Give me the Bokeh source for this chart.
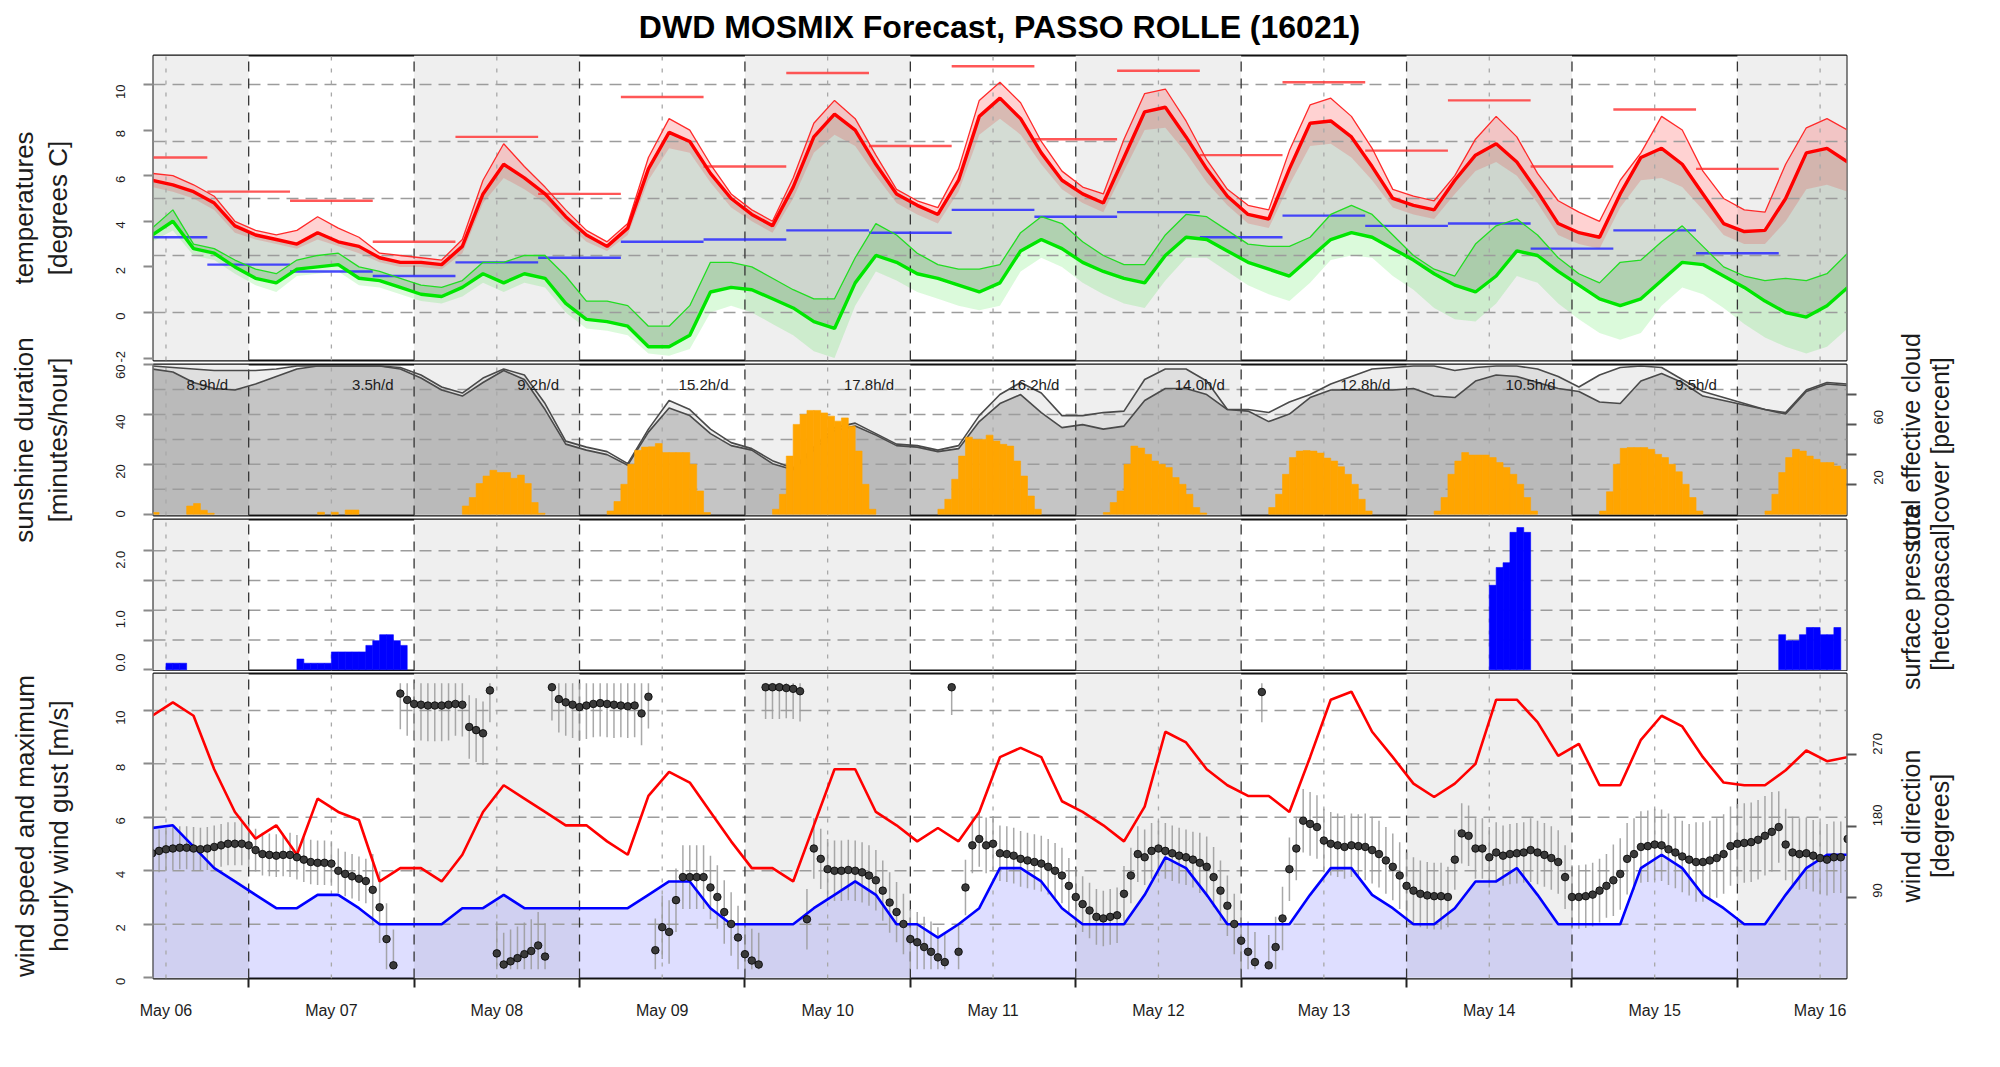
import math
from bokeh.plotting import figure
from bokeh.layouts import column, row
from bokeh.models import Range1d, LinearAxis, FixedTicker
from bokeh.embed import file_html
from bokeh.resources import INLINE
from bokeh.core.properties import value

FONT = "Liberation Sans"
TXT = "#1c1c1c"

# ------------------------------------------------------------------ data
title_text = "DWD MOSMIX Forecast, PASSO ROLLE (16021)"
day_labels = ["May 06", "May 07", "May 08", "May 09", "May 10", "May 11",
              "May 12", "May 13", "May 14", "May 15", "May 16"]
# time axis: hours since May 06 00 UTC
noon_hours = [12, 36, 60, 84, 108, 132, 156, 180, 204, 228, 252]
midnight_hours = [24, 48, 72, 96, 120, 144, 168, 192, 216, 240]
shaded_day_start = [0, 48, 96, 144, 192, 240]

t3 = list(range(10, 257, 3))          # 3-hourly steps
t_hourly = list(range(10, 257))       # hourly steps

temp_mean = [
    5.8, 5.6, 5.3, 4.8, 3.8, 3.4, 3.2, 3.0,
    3.5, 3.1, 2.9, 2.4, 2.2, 2.2, 2.1, 2.9,
    5.2, 6.5, 5.9, 5.2, 4.2, 3.4, 2.9, 3.7,
    6.3, 7.9, 7.5, 6.1, 5.0, 4.3, 3.8, 5.5,
    7.7, 8.7, 8.0, 6.5, 5.2, 4.7, 4.3, 5.8,
    8.6, 9.4, 8.5, 7.0, 5.8, 5.2, 4.8, 6.8,
    8.8, 9.0, 7.7, 6.3, 5.1, 4.3, 4.1, 6.3,
    8.3, 8.4, 7.7, 6.4, 5.0, 4.7, 4.5, 5.8,
    6.9, 7.4, 6.6, 5.3, 3.9, 3.5, 3.3, 5.2,
    6.8, 7.2, 6.5, 5.2, 3.9, 3.55, 3.6, 5.0,
    7.0, 7.2, 6.6]
temp_upper = [
    6.1, 6.0, 5.6, 5.1, 4.0, 3.6, 3.4, 3.6,
    4.2, 3.7, 3.3, 2.6, 2.5, 2.4, 2.3, 3.2,
    5.8, 7.4, 6.4, 5.5, 4.5, 3.6, 3.1, 3.9,
    6.8, 8.5, 8.0, 6.5, 5.2, 4.5, 4.0, 5.9,
    8.3, 9.3, 8.5, 6.9, 5.4, 4.9, 4.6, 6.3,
    9.3, 10.1, 9.2, 7.5, 6.2, 5.5, 5.2, 7.6,
    9.6, 9.8, 8.4, 6.7, 5.4, 4.7, 4.5, 7.1,
    9.1, 9.4, 8.6, 7.2, 5.4, 5.1, 4.9, 6.0,
    7.6, 8.6, 7.7, 6.1, 4.9, 4.4, 4.0, 5.8,
    7.0, 8.6, 8.0, 6.2, 5.0, 4.5, 4.4, 6.5,
    8.1, 8.5, 8.0]
temp_lower = [
    5.5, 5.3, 5.0, 4.5, 3.5, 3.2, 3.0, 2.8,
    3.2, 2.9, 2.6, 2.2, 2.0, 2.0, 1.9, 2.6,
    4.8, 5.9, 5.4, 4.8, 3.9, 3.1, 2.7, 3.4,
    5.8, 7.2, 7.0, 5.7, 4.6, 4.0, 3.5, 5.0,
    7.0, 7.8, 7.3, 6.0, 4.8, 4.3, 3.9, 5.3,
    7.8, 8.5, 7.8, 6.5, 5.4, 4.8, 4.4, 6.2,
    8.0, 8.1, 7.0, 5.7, 4.7, 3.9, 3.7, 5.6,
    7.3, 7.4, 6.8, 5.8, 4.6, 4.3, 4.1, 5.2,
    6.2, 6.6, 6.0, 4.8, 3.4, 3.0, 2.8, 4.6,
    5.8, 5.9, 5.5, 4.5, 3.4, 3.0, 3.0, 4.0,
    5.4, 5.6, 5.3]
dew_mean = [
    3.4, 4.0, 2.8, 2.6, 2.0, 1.5, 1.3, 1.9,
    2.0, 2.1, 1.5, 1.4, 1.1, 0.8, 0.7, 1.1,
    1.7, 1.3, 1.7, 1.5, 0.4, -0.3, -0.4, -0.6,
    -1.5, -1.5, -1.0, 0.9, 1.1, 1.0, 0.6, 0.2,
    -0.4, -0.7, 1.3, 2.5, 2.2, 1.7, 1.5, 1.2,
    0.9, 1.3, 2.7, 3.2, 2.8, 2.2, 1.8, 1.5,
    1.3, 2.5, 3.3, 3.2, 2.7, 2.2, 1.9, 1.6,
    2.4, 3.2, 3.5, 3.3, 2.8, 2.3, 1.7, 1.2,
    0.9, 1.6, 2.7, 2.5, 1.8, 1.2, 0.6, 0.3,
    0.6, 1.4, 2.2, 2.1, 1.6, 1.1, 0.5, 0.0,
    -0.2, 0.3, 1.1]
dew_upper = [
    3.7, 4.5, 3.0, 2.8, 2.3, 1.9, 1.7, 2.3,
    2.5, 2.6, 2.0, 1.8, 1.5, 1.2, 1.1, 1.4,
    2.2, 2.2, 2.5, 2.5, 1.6, 0.5, 0.5, 0.3,
    -0.6, -0.6, 0.3, 2.2, 2.2, 2.0, 1.5, 1.0,
    0.6, 0.6, 2.4, 3.9, 3.4, 2.6, 2.1, 1.9,
    1.9, 2.1, 3.5, 4.2, 3.9, 3.1, 2.5, 2.1,
    2.1, 3.4, 4.3, 4.2, 3.6, 3.0, 2.9, 2.9,
    3.3, 4.3, 4.7, 4.3, 3.4, 2.5, 1.9, 1.6,
    3.0, 3.8, 4.1, 3.4, 2.4, 1.7, 1.3, 2.2,
    2.3, 3.1, 3.8, 2.9, 2.0, 1.6, 1.4, 1.5,
    1.4, 1.7, 2.6]
dew_lower = [
    3.1, 3.6, 2.5, 2.3, 1.7, 1.2, 0.9, 1.6,
    1.7, 1.8, 1.2, 1.1, 0.8, 0.5, 0.4, 0.7,
    1.3, 0.9, 1.3, 1.1, 0.0, -0.7, -0.8, -1.0,
    -1.8, -1.9, -1.6, 0.0, 0.3, 0.0, -0.5, -1.0,
    -1.7, -2.0, 0.3, 1.8, 1.4, 0.9, 0.6, 0.3,
    0.1, 0.3, 1.8, 2.4, 2.0, 1.3, 0.8, 0.4,
    0.2, 1.4, 2.4, 2.4, 1.8, 1.2, 0.8, 0.5,
    1.3, 2.3, 2.5, 2.4, 1.6, 1.0, 0.2, -0.3,
    -0.4, 0.4, 1.6, 1.3, 0.4, -0.3, -0.9, -1.2,
    -0.9, 0.3, 1.1, 0.8, 0.2, -0.5, -1.1, -1.5,
    -1.8, -1.5, -0.7]

# 12-hour extremes (periods starting at these hours, 12 h long)
extreme_period_start = [6, 18, 30, 42, 54, 66, 78, 90, 102, 114,
                        126, 138, 150, 162, 174, 186, 198, 210, 222, 234]
temp_max_12h = [6.8, 5.3, 4.9, 3.1, 7.7, 5.2, 9.45, 6.4, 10.5, 7.3,
                10.8, 7.6, 10.6, 6.9, 10.1, 7.1, 9.3, 6.4, 8.9, 6.3]
temp_min_12h = [3.3, 2.1, 1.8, 1.6, 2.2, 2.4, 3.1, 3.2, 3.6, 3.5,
                4.5, 4.2, 4.4, 3.3, 4.25, 3.8, 3.9, 2.8, 3.6, 2.6]

cloud_total = [
    99, 98, 97, 96, 96, 96, 97, 99,
    99, 99, 99, 99, 98, 93, 85, 81,
    91, 97, 93, 74, 49, 45, 42, 34,
    57, 76, 70, 57, 48, 44, 36, 31,
    45, 58, 61, 54, 47, 46, 43, 46,
    66, 80, 88, 81, 66, 66, 68, 69,
    90, 97, 97, 89, 70, 70, 68, 75,
    80, 87, 92, 97, 98, 99, 99, 96,
    98, 99, 99, 97, 92, 85, 93, 98,
    99, 98, 90, 82, 78, 74, 70, 68,
    83, 88, 87]
cloud_effective = [
    97, 95, 88, 84, 83, 87, 92, 97,
    99, 99, 99, 99, 97, 91, 83, 79,
    88, 96, 90, 70, 47, 43, 40, 33,
    55, 71, 66, 54, 46, 43, 34, 30,
    43, 56, 59, 53, 46, 45, 42, 44,
    62, 74, 80, 68, 58, 60, 57, 59,
    76, 84, 84, 80, 70, 69, 62, 67,
    78, 83, 83, 83, 83, 84, 79, 78,
    89, 93, 92, 88, 84, 82, 75, 74,
    89, 94, 88, 79, 76, 73, 70, 67,
    82, 87, 86]

sun_hours = [
    10, 15, 16, 17, 18,
    34, 36, 38, 39,
    55, 56, 57, 58, 59, 60, 61, 62, 63, 64, 65, 66,
    76, 77, 78, 79, 80, 81, 82, 83, 84, 85, 86, 87, 88, 89, 90,
    100, 101, 102, 103, 104, 105, 106, 107, 108, 109, 110, 111, 112, 113, 114,
    124, 125, 126, 127, 128, 129, 130, 131, 132, 133, 134, 135, 136, 137, 138,
    148, 149, 150, 151, 152, 153, 154, 155, 156, 157, 158, 159, 160, 161, 162,
    172, 173, 174, 175, 176, 177, 178, 179, 180, 181, 182, 183, 184, 185, 186,
    196, 197, 198, 199, 200, 201, 202, 203, 204, 205, 206, 207, 208, 209, 210,
    220, 221, 222, 223, 224, 225, 226, 227, 228, 229, 230, 231, 232, 233, 234,
    244, 245, 246, 247, 248, 249, 250, 251, 252, 253, 254, 255]
sun_minutes = [
    0.7, 3.3, 4.3, 1.6, 0.4,
    0.8, 0.8, 1.7, 1.7,
    3.3, 6.7, 12.3, 15.3, 17.6, 16.7, 16.7, 14.4, 15.7, 12.3, 4.7, 0.4,
    1.3, 5.1, 12.0, 20.0, 25.6, 26.9, 27.0, 28.3, 24.7, 24.7, 24.7, 24.7, 20.0, 9.3, 0.7,
    2.0, 8.0, 23.3, 36.0, 40.0, 41.6, 41.6, 40.6, 39.3, 37.3, 38.6, 35.3, 25.3, 12.0, 2.0,
    2.0, 6.0, 14.0, 23.3, 30.9, 30.0, 30.0, 31.7, 29.3, 28.0, 27.3, 21.3, 15.3, 7.3, 2.0,
    0.7, 4.7, 9.3, 20.0, 27.3, 26.5, 24.0, 21.3, 20.0, 18.7, 14.7, 12.0, 8.0, 2.7, 0.5,
    2.7, 8.0, 16.0, 22.7, 25.3, 25.5, 25.3, 24.5, 22.5, 21.3, 19.0, 16.0, 12.0, 6.0, 1.3,
    1.3, 6.7, 16.0, 21.3, 24.7, 23.7, 23.7, 23.7, 22.7, 20.7, 18.7, 16.0, 12.0, 6.7, 1.3,
    1.3, 9.0, 20.0, 26.4, 26.7, 26.7, 26.7, 26.0, 24.0, 22.7, 20.0, 17.0, 12.0, 6.7, 1.3,
    1.3, 8.0, 16.7, 22.7, 26.0, 25.3, 23.3, 22.0, 20.7, 20.7, 19.3, 18.0]
sun_label_hours = [18, 42, 66, 90, 114, 138, 162, 186, 210, 234]
sun_label_text = ["8.9h/d", "3.5h/d", "9.2h/d", "15.2h/d", "17.8h/d",
                  "16.2h/d", "14.0h/d", "12.8h/d", "10.5h/d", "9.5h/d"]

precip_hours = [12, 13, 14,
                31, 32, 33, 34, 35, 36, 37, 38, 39, 40, 41, 42, 43, 44, 45, 46,
                204, 205, 206, 207, 208, 209,
                246, 247, 248, 249, 250, 251, 252, 253, 254]
precip_mm = [0.11, 0.11, 0.11,
             0.18, 0.11, 0.11, 0.11, 0.11, 0.30, 0.30, 0.30, 0.30, 0.30, 0.41, 0.49, 0.59, 0.59, 0.49, 0.41,
             1.42, 1.72, 1.80, 2.31, 2.39, 2.31,
             0.59, 0.49, 0.49, 0.59, 0.71, 0.71, 0.59, 0.59, 0.71]

wind_speed = [
    5.6, 5.7, 4.9, 4.1, 3.6, 3.1, 2.6, 2.6,
    3.1, 3.1, 2.6, 2.0, 2.0, 2.0, 2.0, 2.6,
    2.6, 3.1, 2.6, 2.6, 2.6, 2.6, 2.6, 2.6,
    3.1, 3.6, 3.6, 2.6, 2.0, 2.0, 2.0, 2.0,
    2.6, 3.1, 3.6, 3.1, 2.0, 2.0, 1.5, 2.0,
    2.6, 4.1, 4.1, 3.6, 2.6, 2.0, 2.0, 2.0,
    3.1, 4.5, 4.1, 3.1, 2.0, 2.0, 2.0, 2.0,
    3.1, 4.1, 4.1, 3.1, 2.6, 2.0, 2.0, 2.6,
    3.6, 3.6, 4.1, 3.1, 2.0, 2.0, 2.0, 2.0,
    4.1, 4.6, 4.1, 3.1, 2.6, 2.0, 2.0, 3.1,
    4.1, 4.6, 4.6]
wind_gust = [
    9.8, 10.3, 9.8, 7.8, 6.2, 5.2, 5.7, 4.6,
    6.7, 6.2, 5.9, 3.6, 4.1, 4.1, 3.6, 4.6,
    6.2, 7.2, 6.7, 6.2, 5.7, 5.7, 5.1, 4.6,
    6.8, 7.7, 7.3, 6.2, 5.1, 4.1, 4.1, 3.6,
    5.7, 7.8, 7.8, 6.2, 5.7, 5.1, 5.6, 5.1,
    6.2, 8.25, 8.6, 8.25, 6.6, 6.2, 5.7, 5.1,
    6.4, 9.2, 8.8, 7.8, 7.2, 6.8, 6.8, 6.2,
    8.25, 10.4, 10.7, 9.2, 8.25, 7.26, 6.76, 7.26,
    8.0, 10.4, 10.4, 9.56, 8.3, 8.75, 7.2, 7.2,
    8.9, 9.8, 9.4, 8.25, 7.3, 7.2, 7.2, 7.76,
    8.5, 8.1, 8.25]
wind_dir = [
    146, 149, 151, 152, 153, 153, 152, 151, 152, 154, 156, 158, 158, 158, 156, 150, 145, 144, 143, 144, 144, 141, 138, 135,
    134, 134, 133, 124, 120, 117, 114, 111, 100, 78, 38, 5, 347, 339, 334, 333, 332, 332, 332, 333, 334, 333, 305, 301,
    297, 351, 20, 6, 10, 14, 19, 23, 30, 16, 355, 340, 336, 333, 330, 332, 334, 335, 334, 333, 332, 331, 332, 322,
    343, 24, 53, 47, 87, 116, 116, 116, 116, 103, 91, 72, 57, 40, 19, 11, 6, 355, 355, 355, 354, 353, 350, 63,
    152, 139, 126, 124, 124, 125, 124, 122, 118, 112, 99, 84, 72, 57, 38, 34, 28, 22, 15, 9, 355, 22, 103, 156,
    164, 156, 158, 146, 145, 143, 139, 137, 135, 133, 129, 124, 118, 105, 91, 82, 74, 66, 64, 66, 68, 95, 118, 145,
    141, 149, 152, 149, 146, 143, 141, 138, 134, 129, 116, 99, 80, 57, 36, 22, 9, 349, 5, 28, 64, 126, 152, 187,
    183, 179, 162, 158, 156, 154, 156, 155, 154, 150, 145, 137, 129, 118, 105, 99, 95, 93, 92, 92, 91, 138, 171, 168,
    152, 152, 141, 147, 143, 145, 146, 147, 150, 147, 144, 140, 135, 116, 91, 91, 92, 94, 99, 105, 112, 120, 139, 145,
    154, 155, 157, 156, 151, 147, 142, 138, 135, 135, 137, 140, 145, 155, 158, 159, 160, 163, 168, 173, 179, 157, 147, 145,
    146, 143, 140, 138, 141, 141, 164]
# spread of the direction forecast (+/- degrees) per 12-hour block from hour 6
dir_spread_12h = [27, 27, 28, 45, 40, 42, 40, 40, 38, 38, 35,
                  35, 35, 38, 40, 42, 38, 40, 45, 50, 45]

# ticks
temp_ticks = [-2, 0, 2, 4, 6, 8, 10]
temp_grid = [0, 2.5, 5, 7.5, 10]
sun_ticks = [0, 20, 40, 60]
sun_grid = [10, 20, 30, 40, 50]
cloud_ticks = [20, 40, 60, 80]
cloud_tick_labels = ["20", "", "60", ""]
precip_ticks = [0, 0.5, 1.0, 1.5, 2.0]
precip_tick_labels = ["0.0", "", "1.0", "", "2.0"]
precip_grid = [0.5, 1.0, 1.5, 2.0]
wind_ticks = [0, 2, 4, 6, 8, 10]
wind_grid = [2, 4, 6, 8, 10]
dir_ticks = [90, 180, 270]

# ------------------------------------------------------------------ layout constants
X_RANGE = (10.19, 255.83)
LB, RB = 52, 52
PW = LB + 1693 + RB
TEMP_R = (-2.105, 11.27)
SUN_R = (-0.5, 60.0)
CLOUD_R = (-0.5, 100.0)
PREC_R = (-0.012, 2.526)
WIND_R = (-0.03, 11.38)
DIR_R = (-11.6, 372.3)


def base_panel(h, yr, top, bottom):
    p = figure(width=PW, height=h, x_range=Range1d(*X_RANGE), y_range=Range1d(*yr),
               output_backend="svg", toolbar_location=None,
               x_axis_location=None, y_axis_location="left",
               min_border_left=LB, min_border_right=RB,
               min_border_top=top, min_border_bottom=bottom,
               outline_line_color="#111111", outline_line_width=2,
               background_fill_color="white", border_fill_color="white")
    p.grid.visible = False
    p.quad(left=shaded_day_start, right=[s + 24 for s in shaded_day_start],
           bottom=yr[0], top=yr[1], fill_color="#efefef", line_color=None)
    return p


def add_grid(p, yr, grid_y):
    p.segment(x0=X_RANGE[0], x1=X_RANGE[1], y0=grid_y, y1=grid_y,
              line_color="#9c9c9c", line_width=1.5, line_dash="12 7")
    p.segment(x0=noon_hours, x1=noon_hours, y0=yr[0], y1=yr[1],
              line_color="#a8a8a8", line_width=1.3, line_dash="4 8")
    p.segment(x0=midnight_hours, x1=midnight_hours, y0=yr[0], y1=yr[1],
              line_color="#333333", line_width=1.3, line_dash="10 7")


def style_axis(ax, ticks, labels, standoff):
    ax.ticker = FixedTicker(ticks=ticks)
    ax.major_label_overrides = {t: l for t, l in zip(ticks, labels)}
    ax.major_label_orientation = math.pi / 2
    ax.axis_line_color = None
    ax.major_tick_in = 0
    ax.major_tick_out = 10
    ax.major_tick_line_color = "#8a8a8a"
    ax.major_tick_line_width = 2
    ax.minor_tick_line_color = None
    ax.major_label_text_font = FONT
    ax.major_label_text_font_size = "13px"
    ax.major_label_text_color = TXT
    ax.major_label_standoff = standoff


# ------------------------------------------------------------------ panel 1: temperatures
p1 = base_panel(309, TEMP_R, 2, 2)
p1.varea(x=t3, y1=dew_mean, y2=temp_mean, fill_color="#b9c6b9", fill_alpha=0.62)
p1.varea(x=t3, y1=dew_lower, y2=dew_mean, fill_color="#22dd22", fill_alpha=0.16)
p1.varea(x=t3, y1=dew_mean, y2=dew_upper, fill_color="#10a010", fill_alpha=0.18)
p1.varea(x=t3, y1=temp_lower, y2=temp_mean, fill_color="#ee2020", fill_alpha=0.18)
p1.varea(x=t3, y1=temp_mean, y2=temp_upper, fill_color="#ff2020", fill_alpha=0.2)
add_grid(p1, TEMP_R, temp_grid)
p1.segment(x0=extreme_period_start, x1=[s + 12 for s in extreme_period_start],
           y0=temp_max_12h, y1=temp_max_12h, line_color="#ff3a3a", line_width=2.4, line_alpha=0.85)
p1.segment(x0=extreme_period_start, x1=[s + 12 for s in extreme_period_start],
           y0=temp_min_12h, y1=temp_min_12h, line_color="#2a2aff", line_width=2.4, line_alpha=0.85)
p1.line(x=t3, y=temp_upper, line_color="#ff2a2a", line_width=1.3)
p1.line(x=t3, y=dew_upper, line_color="#22dd22", line_width=1.3)
p1.line(x=t3, y=temp_mean, line_color="#ff0000", line_width=3.4)
p1.line(x=t3, y=dew_mean, line_color="#00e600", line_width=3.4)
style_axis(p1.yaxis[0], temp_ticks, [str(v) for v in temp_ticks], 23)

# ------------------------------------------------------------------ panel 2: sunshine / clouds
p2 = base_panel(155, SUN_R, 2, 2)
p2.extra_y_ranges = {"cloud": Range1d(*CLOUD_R)}
p2.varea(x=t3, y1=0, y2=cloud_total, fill_color="#5a5a5a", fill_alpha=0.10, y_range_name="cloud")
p2.varea(x=t3, y1=0, y2=cloud_effective, fill_color="#5a5a5a", fill_alpha=0.27, y_range_name="cloud")
add_grid(p2, SUN_R, sun_grid)
p2.line(x=t3, y=cloud_total, line_color="#4a4a4a", line_width=1.6, y_range_name="cloud")
p2.line(x=t3, y=cloud_effective, line_color="#4a4a4a", line_width=1.6, y_range_name="cloud")
p2.quad(left=sun_hours, right=[h + 1 for h in sun_hours], bottom=0, top=sun_minutes,
        fill_color="#ffa500", line_color="#ffa500", line_width=0.6)
p2.text(x=sun_label_hours, y=52.0, text=sun_label_text, text_align="center",
        text_baseline="middle", text_font=value(FONT), text_font_size="15px", text_color=TXT)
style_axis(p2.yaxis[0], sun_ticks, [str(v) for v in sun_ticks], 23)
cax = LinearAxis(y_range_name="cloud")
style_axis(cax, cloud_ticks, cloud_tick_labels, 22)
cax.major_tick_line_color = "#555555"
p2.add_layout(cax, "right")

# ------------------------------------------------------------------ panel 3: precipitation
p3 = base_panel(154, PREC_R, 2, 1)
add_grid(p3, PREC_R, precip_grid)
p3.quad(left=precip_hours, right=[h + 1 for h in precip_hours], bottom=0, top=precip_mm,
        fill_color="#0000ff", line_color="#0000ff", line_width=0.6)
style_axis(p3.yaxis[0], precip_ticks, precip_tick_labels, 23)

# ------------------------------------------------------------------ panel 4: wind
p4 = base_panel(359, WIND_R, 2, 52)
p4.extra_y_ranges = {"dir": Range1d(*DIR_R)}
p4.varea(x=t3, y1=0, y2=wind_speed, fill_color="#0000ff", fill_alpha=0.13)
add_grid(p4, WIND_R, wind_grid)
dir_lo, dir_hi = [], []
for t, d in zip(t_hourly, wind_dir):
    s = dir_spread_12h[(t - 6) // 12]
    dir_lo.append(max(0, d - s))
    dir_hi.append(min(360, d + s))
p4.segment(x0=t_hourly, x1=t_hourly, y0=dir_lo, y1=dir_hi, line_color="#9a9a9a",
           line_width=1.5, line_alpha=0.85, y_range_name="dir")
p4.line(x=t3, y=wind_gust, line_color="#ff0000", line_width=2.6)
p4.line(x=t3, y=wind_speed, line_color="#0000ff", line_width=2.6)
p4.scatter(x=t_hourly, y=wind_dir, marker="circle", size=7.6, fill_color="#3a3a3a",
           line_color="#000000", line_width=0.8, y_range_name="dir")
style_axis(p4.yaxis[0], wind_ticks, [str(v) for v in wind_ticks], 23)
dax = LinearAxis(y_range_name="dir")
style_axis(dax, dir_ticks, [str(v) for v in dir_ticks], 21)
dax.major_tick_line_color = "#555555"
p4.add_layout(dax, "right")
xa = LinearAxis(ticker=FixedTicker(ticks=noon_hours, minor_ticks=midnight_hours))
xa.major_label_overrides = {t: l for t, l in zip(noon_hours, day_labels)}
xa.major_tick_in = 0
xa.major_tick_out = 0
xa.minor_tick_in = 0
xa.minor_tick_out = 9
xa.minor_tick_line_color = "#222222"
xa.minor_tick_line_width = 2
xa.axis_line_color = None
xa.major_label_text_font = FONT
xa.major_label_text_font_size = "16px"
xa.major_label_text_color = TXT
xa.major_label_standoff = 14
p4.add_layout(xa, "below")


# ------------------------------------------------------------------ text-only figures
def text_fig(w, h):
    f = figure(width=w, height=h, x_range=Range1d(0, w), y_range=Range1d(0, h),
               output_backend="svg", toolbar_location=None,
               x_axis_location=None, y_axis_location=None,
               min_border_left=0, min_border_right=0, min_border_top=0, min_border_bottom=0,
               outline_line_color=None, background_fill_color="white", border_fill_color="white")
    f.grid.visible = False
    return f


LEFT_W = 153 - LB
title_fig = text_fig(LEFT_W + PW + 100, 53)
title_fig.text(x=[999], y=[27], text=[title_text], text_align="center", text_baseline="middle",
               text_font=value(FONT), text_font_style="bold", text_font_size="32px", text_color="#000000")

left_fig = text_fig(LEFT_W, 977)
left_fig.text(x=[23, 57, 23, 57, 24, 58],
              y=[822.5, 822.5, 590.5, 590.5, 204.5, 204.5],
              text=["temperatures", "[degrees C]", "sunshine duration", "[minutes/hour]",
                    "wind speed and maximum", "hourly wind gust [m/s]"],
              angle=math.pi / 2, text_align="center", text_baseline="middle",
              text_font=value(FONT), text_font_size="26px", text_color=TXT)

right_fig = text_fig(100, 977)
right_x0 = LEFT_W + PW
right_fig.text(x=[1910 - right_x0, 1939 - right_x0] * 3,
               y=[590.5, 590.5, 433.5, 433.5, 204.5, 204.5],
               text=["total effective cloud", "cover [percent]", "surface pressure", "[hetcopascal]",
                     "wind direction", "[degrees]"],
               angle=math.pi / 2, text_align="center", text_baseline="middle",
               text_font=value(FONT), text_font_size="25px", text_color=TXT)

layout = column(title_fig, row(left_fig, column(p1, p2, p3, p4), right_fig))

open("out.html", "w").write(file_html(layout, INLINE))
